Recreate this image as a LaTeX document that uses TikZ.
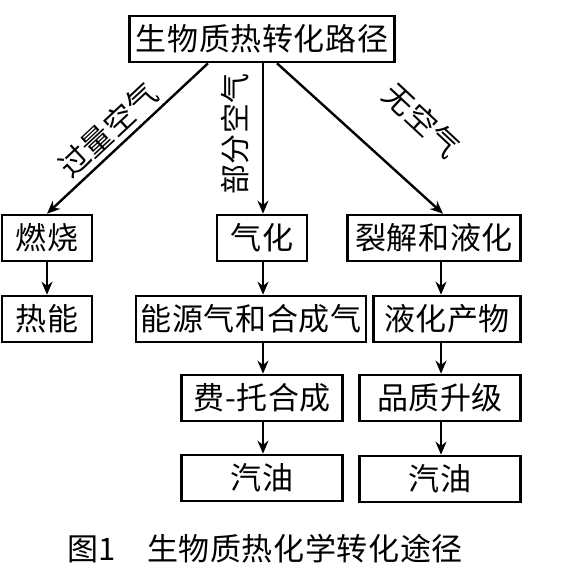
\documentclass[tikz,border=0pt]{standalone}
\usepackage{fontspec}
\setmainfont{Noto Sans CJK SC}[LetterSpace=2]
\usetikzlibrary{arrows.meta, positioning}
\tikzset{
  every picture/.style={line width=1.4pt},
  box/.style={draw, line width=2.6pt, minimum height=46pt, inner sep=0pt, text width=#1, align=center},
  arrow/.style={-{Stealth[length=13pt, width=11pt]}, line width=2.4pt},
  lbl/.style={font=\fontsize{30}{32}\selectfont},
}
\begin{document}
\begin{tikzpicture}[x=1pt, y=-1pt, every node/.append style={font=\fontsize{31}{33}\selectfont}]
  \useasboundingbox (0,0) rectangle (588,575);
  \node[box=265pt] (top) at (262,39) {生物质热转化路径};
  % three routes
  \node[box=90pt] (burn) at (47,238) {燃烧};
  \node[box=90pt] (heat) at (47,319) {热能};
  \node[box=90pt] (gasify) at (262,238) {气化};
  \node[box=230pt] (syngas) at (251,319) {能源气和合成气};
  \node[box=161pt] (ft) at (262,398) {费-托合成};
  \node[box=161pt] (gasa) at (262,478) {汽油};
  \node[box=173pt] (crack) at (434,238) {裂解和液化};
  \node[box=147pt] (liquid) at (447,319) {液化产物};
  \node[box=161pt] (upgrade) at (440,398) {品质升级};
  \node[box=161pt] (gasb) at (440,479) {汽油};
  \draw[arrow] ([xshift=-54pt]top.south) -- (burn.north);
  \draw[arrow] ([xshift=1pt]top.south) -- ([xshift=1pt]gasify.north);
  \draw[arrow] ([xshift=15pt]top.south) -- ([xshift=9pt]crack.north);
  \node[lbl, rotate=43] (excess) at (108,130) {过量空气};
  \node[lbl, rotate=90] (partial) at (235,134) {部分空气};
  \node[lbl, rotate=-43] (noair) at (422,120) {无空气};
  \draw[arrow] (burn) -- (heat);
  \foreach \a/\b in {gasify/syngas, syngas/ft, ft/gasa}
    \draw[arrow] (\a.south -| 263,0) -- (\b.north -| 263,0);
  \foreach \a/\b in {crack/liquid, liquid/upgrade, upgrade/gasb}
    \draw[arrow] (\a.south -| 441,0) -- (\b.north -| 441,0);
  \node (cap) at (265,549) {图1\hspace{1em}生物质热化学转化途径};
\end{tikzpicture}
\end{document}
